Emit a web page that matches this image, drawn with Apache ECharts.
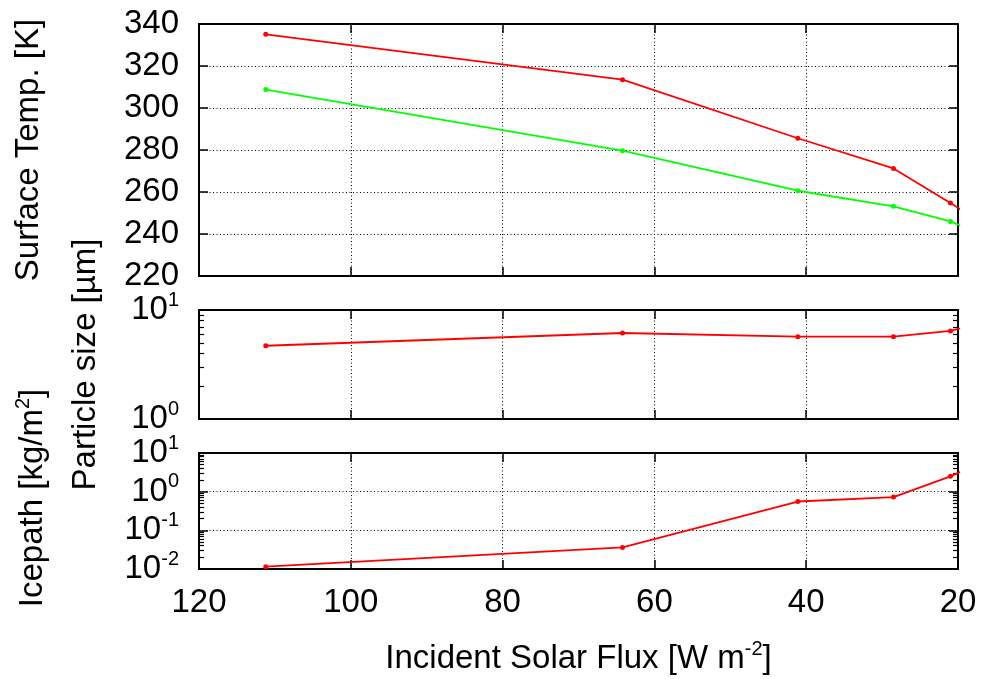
<!DOCTYPE html>
<html><head><meta charset="utf-8">
<script src="https://cdn.jsdelivr.net/npm/echarts@6/dist/echarts.min.js"></script>
<style>html,body{margin:0;padding:0;background:#fff}#c{width:986px;height:679px}</style>
</head><body><div id="c"></div>
<script>
// ---- data ----
const flux = [111.2, 64.2, 41.1, 28.5, 21.0, 16.5];          // Incident solar flux [W m-2]
const tempRed = [335.1, 313.5, 285.6, 271.2, 254.8, 244.5];   // Surface temp [K], red
const tempGreen = [308.8, 279.7, 260.6, 253.2, 246.0, 239.3]; // Surface temp [K], green
const particleSize = [4.70, 6.15, 5.69, 5.69, 6.42, 7.8];     // Particle size [µm]
const icePath = [0.0115, 0.0361, 0.556, 0.723, 2.49, 6.2];    // Icepath [kg/m2]
// ---- axis ticks ----
const fluxRange = [20, 120], fluxStep = 20;
const tempRange = [220, 340], tempStep = 20;
const sizeRange = [1, 10];
const iceRange = [0.01, 10];
const minorSize = [2, 3, 4, 5, 6, 7, 8, 9];
const minorIce = [0.02, 0.03, 0.04, 0.05, 0.06, 0.07, 0.08, 0.09,
                  0.2, 0.3, 0.4, 0.5, 0.6, 0.7, 0.8, 0.9,
                  2, 3, 4, 5, 6, 7, 8, 9];

const FONT = '"Liberation Sans", Arial, Helvetica, sans-serif';
const BLACK = '#000';
const FS = 33;
const rich = {
  b: { fontSize: FS, lineHeight: 40, fontFamily: FONT, color: BLACK },
  s: { fontSize: 20, lineHeight: 15, verticalAlign: 'top', fontFamily: FONT, color: BLACK }
};
const dotted = { show: true, lineStyle: { color: BLACK, width: 1, type: [1, 2.5] } };
const axLine = { show: true, onZero: false, lineStyle: { color: BLACK, width: 2 } };
const majorTick = { show: true, inside: true, length: 9, lineStyle: { color: BLACK, width: 1.5 } };
const nameStyle = { fontSize: FS, fontFamily: FONT, color: BLACK, lineHeight: 40, rich: rich };

function xAxes(g, withLabels) {
  const base = { type: 'value', gridIndex: g, min: fluxRange[0], max: fluxRange[1], interval: fluxStep,
    inverse: true, axisLine: axLine, axisTick: majorTick };
  const bottom = Object.assign({}, base, { position: 'bottom', splitLine: dotted,
    axisLabel: { show: withLabels, margin: 17, fontSize: FS, fontFamily: FONT, color: BLACK } });
  if (withLabels) {
    Object.assign(bottom, { name: 'Incident Solar Flux [W m{s|-2}]', nameLocation: 'middle', nameGap: 70,
      nameTextStyle: nameStyle });
  }
  const top = Object.assign({}, base, { position: 'top', splitLine: { show: false }, axisLabel: { show: false } });
  return [bottom, top];
}
const logFmt = v => '{b|10}{s|' + Math.round(Math.log10(v)) + '}';
function logYAxes(g, range, minors, name, gap, namePad) {
  const base = { type: 'log', logBase: 10, gridIndex: g, min: range[0], max: range[1], axisLine: axLine };
  return [
    Object.assign({}, base, { position: 'left', axisTick: majorTick, splitLine: dotted,
      axisLabel: { show: true, margin: 20, formatter: logFmt, rich: rich },
      name: name, nameLocation: 'middle', nameGap: gap,
      nameTextStyle: Object.assign({}, nameStyle, { padding: namePad }) }),
    Object.assign({}, base, { position: 'right', axisTick: majorTick, splitLine: { show: false }, axisLabel: { show: false } }),
    Object.assign({}, base, { position: 'left', axisLine: { show: false }, splitLine: { show: false }, axisLabel: { show: false },
      axisTick: { show: true, inside: true, length: 5, customValues: minors, lineStyle: { color: BLACK, width: 1.2 } } }),
    Object.assign({}, base, { position: 'right', axisLine: { show: false }, splitLine: { show: false }, axisLabel: { show: false },
      axisTick: { show: true, inside: true, length: 5, customValues: minors, lineStyle: { color: BLACK, width: 1.2 } } })
  ];
}

const tempBase = { type: 'value', gridIndex: 0, min: tempRange[0], max: tempRange[1], interval: tempStep, axisLine: axLine, axisTick: majorTick };
const yAxis = [
  Object.assign({}, tempBase, { position: 'left', splitLine: dotted,
    axisLabel: { margin: 20, fontSize: FS, fontFamily: FONT, color: BLACK },
    name: 'Surface Temp. [K]', nameLocation: 'middle', nameGap: 150, nameTextStyle: nameStyle }),
  Object.assign({}, tempBase, { position: 'right', splitLine: { show: false }, axisLabel: { show: false } })
].concat(
  logYAxes(1, sizeRange, minorSize, 'Particle size [µm]', 93, [0, 0, 0, 0]),
  logYAxes(2, iceRange, minorIce, 'Icepath [kg/m{s|2}]', 146, [0, 0, 0, 26])
);
const xAxis = xAxes(0, false).concat(xAxes(1, false), xAxes(2, true));

function line(color, xi, yi, ys) {
  return { type: 'line', xAxisIndex: xi, yAxisIndex: yi, data: flux.map((f, i) => [f, ys[i]]),
    symbol: 'circle', symbolSize: 5, clip: true, silent: true,
    itemStyle: { color: color }, lineStyle: { color: color, width: 1.8 } };
}

const chart = echarts.init(document.getElementById('c'), null, { renderer: 'canvas' });
chart.setOption({
  animation: false,
  backgroundColor: '#fff',
  textStyle: { fontFamily: FONT },
  grid: [
    { left: 199, right: 28, top: 24, height: 252, outerBoundsMode: 'none' },
    { left: 199, right: 28, top: 310, height: 109, outerBoundsMode: 'none' },
    { left: 199, right: 28, top: 453, height: 116, outerBoundsMode: 'none' }
  ],
  xAxis: xAxis,
  yAxis: yAxis,
  series: [
    line('#ff0000', 0, 0, tempRed),
    line('#00ff00', 0, 0, tempGreen),
    line('#ff0000', 2, 2, particleSize),
    line('#ff0000', 4, 6, icePath)
  ]
});
</script></body></html>
